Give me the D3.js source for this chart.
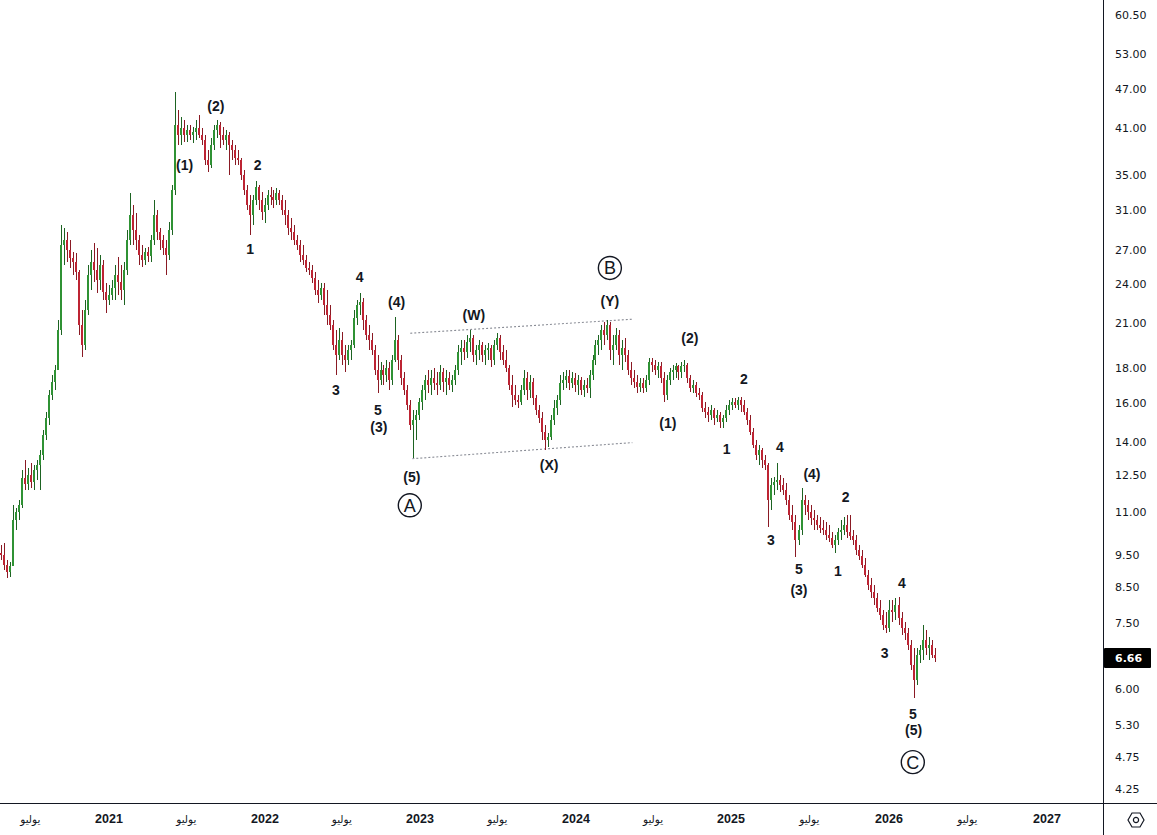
<!DOCTYPE html>
<html><head><meta charset="utf-8">
<script src="https://cdn.jsdelivr.net/npm/d3@7"></script>
<style>html,body{margin:0;padding:0;background:#fff}svg{display:block}</style>
</head><body>
<svg id="chart" width="1157" height="835"></svg>
<script>
// ---------- DATA (weekly candles) ----------
const firstWeek = "2020-04-24";
const open = [
9.55,9.48,9.16,8.95,9.13,10.69,10.99,11.26,12.36,12.10,
12.48,12.19,12.70,12.92,13.37,14.32,15.17,16.42,17.17,17.89,
20.52,27.47,27.95,27.01,26.27,25.91,25.04,20.88,19.50,21.98,
24.79,25.91,25.21,24.36,25.65,23.38,22.75,23.14,23.70,24.79,
24.20,23.54,25.21,27.95,30.46,28.93,27.95,26.55,26.09,26.82,
26.46,27.95,30.46,28.73,27.95,27.19,26.55,28.93,33.19,41.48,
40.08,41.06,40.08,40.78,40.08,40.50,41.06,40.08,39.40,36.80,
36.17,38.74,40.78,41.48,40.08,39.40,40.08,38.74,38.08,37.05,
36.80,34.95,33.19,31.52,30.46,32.07,33.54,32.07,30.77,31.52,
32.62,32.40,32.07,32.85,32.07,30.98,30.46,29.13,28.73,27.95,
27.47,26.55,26.09,25.38,25.21,24.53,23.54,23.14,23.70,22.36,
21.61,20.88,19.50,18.84,19.83,18.84,18.52,19.16,19.50,21.39,
22.36,22.59,21.24,20.18,19.83,19.16,17.89,17.29,17.89,17.59,
18.01,17.29,18.52,19.83,18.52,17.41,16.71,15.87,14.82,15.07,
15.33,16.03,16.71,17.29,17.00,17.41,17.12,17.00,17.77,17.17,
17.41,17.00,17.29,17.89,19.03,19.30,19.03,19.70,19.97,18.84,
19.16,19.50,18.84,19.16,19.30,18.52,19.50,19.97,19.03,18.52,
18.01,17.00,16.42,16.14,16.03,16.71,17.41,16.71,17.17,16.25,
15.60,15.17,14.46,14.07,14.22,15.07,15.71,16.14,17.12,17.29,
17.53,17.12,17.41,17.00,17.29,16.71,17.00,16.83,17.59,18.52,
19.50,19.83,20.52,20.18,20.88,19.16,19.50,20.18,18.84,19.30,
18.84,17.89,17.41,17.17,16.89,17.12,16.83,17.29,18.39,18.20,
17.89,18.14,17.41,16.42,17.29,17.77,17.89,18.14,17.77,18.14,
18.20,17.41,16.83,17.00,16.54,16.42,15.71,15.49,15.33,15.60,
15.17,15.33,14.97,15.17,15.60,15.87,16.03,15.87,16.14,15.87,
15.49,15.07,14.46,13.83,13.37,13.60,13.14,12.92,11.45,12.06,
12.19,12.27,12.06,11.85,11.45,10.88,10.62,9.98,10.33,11.45,
11.26,10.99,10.77,10.69,10.51,10.40,10.33,10.16,10.05,9.81,
9.98,10.26,10.33,10.51,10.26,10.12,9.98,9.65,9.45,9.16,
8.85,8.56,8.35,8.19,7.91,7.72,7.46,7.38,7.85,7.80,
7.99,7.64,7.38,7.26,6.96,6.50,6.17,6.73,6.84,7.08,
6.89,6.96,6.73];
const high = [
9.81,9.88,9.32,9.26,11.26,11.14,11.45,12.70,13.14,12.79,
13.01,12.92,13.14,13.60,14.56,15.49,16.71,17.59,18.20,21.24,
29.43,29.13,28.73,27.95,26.82,26.73,25.21,21.98,22.75,25.65,
27.01,27.66,27.19,26.55,26.09,24.11,23.95,24.36,25.65,26.36,
25.65,25.91,28.93,32.85,31.52,30.67,28.43,27.47,27.19,27.28,
28.43,32.07,30.98,29.13,28.43,27.95,29.73,33.77,46.45,43.67,
42.63,42.20,41.48,41.48,41.20,42.20,42.93,41.06,40.08,38.08,
39.67,41.48,42.20,41.91,41.20,40.78,40.50,39.40,38.74,38.08,
37.05,35.56,33.77,32.62,32.62,34.24,33.77,32.96,32.29,33.19,
33.54,33.19,33.42,33.19,32.62,32.07,30.98,30.15,29.43,28.43,
27.95,27.47,26.55,25.91,25.65,25.04,24.36,24.11,24.11,23.54,
22.36,21.24,20.52,20.66,20.38,19.50,19.50,19.83,21.98,22.75,
23.30,22.91,21.61,20.88,20.31,19.50,18.84,18.39,18.20,18.52,
18.39,18.84,21.46,20.18,18.84,17.77,17.00,16.14,15.60,15.60,
16.25,17.00,17.59,17.89,17.89,18.01,17.77,18.20,18.01,17.89,
17.77,17.59,18.20,19.50,19.83,19.83,20.18,20.52,20.18,19.50,
19.83,19.70,19.50,19.63,19.50,19.83,20.31,20.18,19.50,19.16,
18.20,17.59,17.00,16.42,17.00,17.89,17.77,17.59,17.41,16.42,
15.87,15.49,14.82,14.41,15.33,16.14,16.42,17.59,17.77,17.89,
17.89,17.77,17.71,17.59,17.47,17.29,17.41,17.89,18.84,19.83,
20.18,20.88,21.10,21.24,21.10,20.18,20.66,20.52,19.83,19.97,
19.16,18.39,17.89,17.59,17.41,17.41,17.59,18.65,18.65,18.52,
18.39,18.39,17.77,17.59,18.01,18.20,18.33,18.20,18.39,18.52,
18.33,17.59,17.29,17.17,16.83,16.60,16.03,15.76,15.87,15.71,
15.60,15.49,15.33,15.87,16.14,16.25,16.25,16.31,16.31,16.14,
15.71,15.33,14.66,14.07,13.83,13.69,13.37,13.01,12.36,12.40,
13.01,12.48,12.36,12.14,11.65,11.26,10.88,10.51,11.93,11.65,
11.45,11.26,11.07,10.88,10.80,10.69,10.62,10.51,10.26,10.16,
10.40,10.69,10.80,10.88,10.88,10.33,10.16,9.81,9.65,9.38,
9.01,8.76,8.56,8.33,8.13,7.85,7.80,8.13,8.13,8.19,
8.22,7.80,7.54,7.38,7.08,6.89,6.89,6.96,7.46,7.33,
7.16,7.08,6.89];
const low = [
9.32,9.01,8.76,8.79,10.16,10.33,10.69,11.14,11.85,11.85,
11.93,11.85,12.27,11.85,13.14,14.07,14.82,16.14,16.71,17.89,
20.18,25.65,25.91,25.38,24.79,24.36,20.18,18.71,19.16,21.61,
23.54,24.20,23.30,23.54,22.75,21.76,22.36,22.75,22.75,23.14,
22.75,22.36,24.79,27.47,27.47,27.01,25.65,25.47,25.65,25.91,
25.91,27.47,27.95,27.01,26.55,24.79,26.09,28.43,32.62,38.74,
38.74,39.14,39.14,39.40,39.01,39.40,39.67,38.74,36.17,35.32,
35.80,38.08,39.67,38.34,38.74,38.08,34.95,36.80,36.17,36.17,
34.36,32.62,30.98,28.43,29.43,31.52,30.98,29.94,29.64,30.98,
31.52,31.20,31.52,31.52,30.46,29.43,28.43,27.95,27.47,27.01,
25.91,25.65,25.04,24.79,24.11,23.14,22.52,22.75,21.61,20.88,
20.52,19.16,17.59,18.52,18.20,17.77,18.20,18.52,19.30,20.88,
21.61,20.52,19.83,19.16,18.84,17.59,16.54,17.00,17.00,17.17,
16.71,17.00,18.39,17.89,17.00,16.42,15.60,14.56,13.23,14.07,
15.07,15.60,16.14,16.54,16.42,16.71,16.42,16.71,16.60,16.42,
16.71,16.60,17.00,17.59,18.20,18.52,18.65,19.03,18.39,18.20,
18.52,18.39,18.20,18.52,18.08,18.20,19.16,18.52,18.20,17.77,
16.71,15.76,15.87,15.71,15.87,16.42,16.14,16.25,15.87,15.33,
14.92,14.07,13.60,13.74,14.07,14.82,15.33,15.87,16.71,16.83,
16.71,16.83,16.60,16.42,16.42,16.31,16.54,16.25,17.29,18.20,
18.84,19.16,19.50,19.83,18.52,18.20,19.16,18.20,17.89,18.39,
17.59,17.00,16.83,16.54,16.60,16.54,16.60,17.00,17.77,17.59,
17.41,17.12,16.03,16.14,17.00,17.29,17.41,17.29,17.41,17.77,
17.12,16.60,16.54,16.31,16.14,15.49,15.17,14.97,15.07,14.82,
14.97,14.66,14.66,14.97,15.33,15.60,15.71,15.60,15.49,15.33,
14.82,14.32,13.69,13.14,12.92,12.79,12.70,10.44,11.07,11.65,
11.85,11.77,11.65,11.26,10.69,10.33,9.41,9.81,10.16,10.88,
10.69,10.51,10.33,10.33,10.23,10.16,9.98,9.91,9.71,9.55,
9.81,9.98,10.16,10.05,9.98,9.81,9.48,9.32,9.07,8.79,
8.41,8.19,7.99,7.80,7.59,7.33,7.26,7.28,7.54,7.59,
7.46,7.21,7.08,6.84,6.39,5.81,6.07,6.55,6.61,6.73,
6.61,6.66,6.57];
const close = [
9.48,9.16,8.95,9.13,10.69,10.99,11.26,12.36,12.10,12.48,
12.19,12.70,12.92,13.37,14.32,15.17,16.42,17.17,17.89,20.52,
27.47,27.95,27.01,26.27,25.91,25.04,20.88,19.50,21.98,24.79,
25.91,25.21,24.36,25.65,23.38,22.75,23.14,23.70,24.79,24.20,
23.54,25.21,27.95,30.46,28.93,27.95,26.55,26.09,26.82,26.46,
27.95,30.46,28.73,27.95,27.19,26.55,28.93,33.19,41.48,40.08,
41.06,40.08,40.78,40.08,40.50,41.06,40.08,39.40,36.80,36.17,
38.74,40.78,41.48,40.08,39.40,40.08,38.74,38.08,37.05,36.80,
34.95,33.19,31.52,30.46,32.07,33.54,32.07,30.77,31.52,32.62,
32.40,32.07,32.85,32.07,30.98,30.46,29.13,28.73,27.95,27.47,
26.55,26.09,25.38,25.21,24.53,23.54,23.14,23.70,22.36,21.61,
20.88,19.50,18.84,19.83,18.84,18.52,19.16,19.50,21.39,22.36,
22.59,21.24,20.18,19.83,19.16,17.89,17.29,17.89,17.59,18.01,
17.29,18.52,19.83,18.52,17.41,16.71,15.87,14.82,15.07,15.33,
16.03,16.71,17.29,17.00,17.41,17.12,17.00,17.77,17.17,17.41,
17.00,17.29,17.89,19.03,19.30,19.03,19.70,19.97,18.84,19.16,
19.50,18.84,19.16,19.30,18.52,19.50,19.97,19.03,18.52,18.01,
17.00,16.42,16.14,16.03,16.71,17.41,16.71,17.17,16.25,15.60,
15.17,14.46,14.07,14.22,15.07,15.71,16.14,17.12,17.29,17.53,
17.12,17.41,17.00,17.29,16.71,17.00,16.83,17.59,18.52,19.50,
19.83,20.52,20.18,20.88,19.16,19.50,20.18,18.84,19.30,18.84,
17.89,17.41,17.17,16.89,17.12,16.83,17.29,18.39,18.20,17.89,
18.14,17.41,16.42,17.29,17.77,17.89,18.14,17.77,18.14,18.20,
17.41,16.83,17.00,16.54,16.42,15.71,15.49,15.33,15.60,15.17,
15.33,14.97,15.17,15.60,15.87,16.03,15.87,16.14,15.87,15.49,
15.07,14.46,13.83,13.37,13.60,13.14,12.92,11.45,12.06,12.19,
12.27,12.06,11.85,11.45,10.88,10.62,9.98,10.33,11.45,11.26,
10.99,10.77,10.69,10.51,10.40,10.33,10.16,10.05,9.81,9.98,
10.26,10.33,10.51,10.26,10.12,9.98,9.65,9.45,9.16,8.85,
8.56,8.35,8.19,7.91,7.72,7.46,7.38,7.85,7.80,7.99,
7.64,7.38,7.26,6.96,6.50,6.17,6.73,6.84,7.08,6.89,
6.96,6.73,6.66];

const priceTicks = [60.5,53,47,41,35,31,27,24,21,18,16,14,12.5,11,9.5,8.5,7.5,6,5.3,4.75,4.25];
const lastPrice = 6.66;
const yearLabels = ["2021","2022","2023","2024","2025","2026","2027"];
const julyLabel = "يوليو";
const julyYears = [2020,2021,2022,2023,2024,2025,2026];

const waveLabels = [
  {t:"(1)",d:"2021-06-27",p:36.2},{t:"(2)",d:"2021-09-08",p:44.3},
  {t:"2",d:"2021-12-15",p:36.2},{t:"1",d:"2021-11-27",p:27.1},
  {t:"4",d:"2022-08-12",p:24.6},{t:"3",d:"2022-06-17",p:16.7},
  {t:"(4)",d:"2022-11-07",p:22.6},{t:"5",d:"2022-09-24",p:15.6},
  {t:"(3)",d:"2022-09-26",p:14.7},{t:"(5)",d:"2022-12-13",p:12.4},
  {t:"(W)",d:"2023-05-07",p:21.6},{t:"(X)",d:"2023-10-30",p:12.9},
  {t:"(Y)",d:"2024-03-21",p:22.7},{t:"(2)",d:"2024-09-26",p:19.96},
  {t:"(1)",d:"2024-08-05",p:14.9},{t:"2",d:"2025-01-31",p:17.35},
  {t:"1",d:"2024-12-22",p:13.65},{t:"4",d:"2025-04-24",p:13.74},
  {t:"3",d:"2025-04-03",p:9.98},{t:"(4)",d:"2025-07-07",p:12.52},
  {t:"5",d:"2025-06-07",p:9.04},{t:"(3)",d:"2025-06-07",p:8.41},
  {t:"2",d:"2025-09-23",p:11.57},{t:"1",d:"2025-09-05",p:8.98},
  {t:"4",d:"2026-01-31",p:8.61},{t:"3",d:"2025-12-22",p:6.77},
  {t:"5",d:"2026-02-25",p:5.50},{t:"(5)",d:"2026-02-27",p:5.20}
];
const circleLabels = [
  {t:"A",d:"2022-12-08",p:11.25},{t:"B",d:"2024-03-21",p:25.4},{t:"C",d:"2026-02-25",p:4.66}
];
const channelTop = [{d:"2022-12-09",p:20.3},{d:"2024-05-13",p:21.3}];
const channelBottom = [{d:"2022-12-14",p:13.2},{d:"2024-05-13",p:13.95}];

// ---------- LAYOUT ----------
const W = 1157, H = 835;
const plotRight = 1103, plotBottom = 803;
const parse = d3.utcParse("%Y-%m-%d");
const svg = d3.select("#chart");

const x = d3.scaleUtc()
  .domain(yearLabels.map(y => new Date(Date.UTC(+y,0,1))))
  .range([109,265,420,576,731,889,1047]);
const y = d3.scaleLog().domain([4.25,60.5]).range([789,15]);

const start = parse(firstWeek);
const n = Math.min(open.length, high.length, low.length, close.length);
const candles = d3.range(n).map(i => ({
  date: d3.utcDay.offset(start, 7*i), o: open[i], h: high[i], l: low[i], c: close[i]
}));

svg.append("rect").attr("width",W).attr("height",H).attr("fill","#fff");

svg.append("defs").append("clipPath").attr("id","plot")
  .append("rect").attr("x",0).attr("y",0).attr("width",plotRight).attr("height",plotBottom);

const g = svg.append("g").attr("clip-path","url(#plot)");

// channel lines
[channelTop, channelBottom].forEach(ch => {
  g.append("line")
    .attr("x1", x(parse(ch[0].d))).attr("y1", y(ch[0].p))
    .attr("x2", x(parse(ch[1].d))).attr("y2", y(ch[1].p))
    .attr("stroke","#8a8d96").attr("stroke-width",1.1).attr("stroke-dasharray","2,2");
});

// candles
const UP_BODY="#2f9234", UP_WICK="#1d6322", DN_BODY="#bd2433", DN_WICK="#8a1a24";
const cg = g.append("g").attr("shape-rendering","crispEdges");
const cs = cg.selectAll("g.c").data(candles).join("g").attr("class","c");
cs.append("rect")
  .attr("x", d => Math.round(x(d.date)))
  .attr("width", 1)
  .attr("y", d => y(d.h))
  .attr("height", d => Math.max(1, y(d.l) - y(d.h)))
  .attr("fill", d => d.c >= d.o ? UP_WICK : DN_WICK);
cs.append("rect")
  .attr("x", d => Math.round(x(d.date)) - 1)
  .attr("width", 2)
  .attr("y", d => Math.min(y(d.o), y(d.c)))
  .attr("height", d => Math.max(1, Math.abs(y(d.o) - y(d.c))))
  .attr("fill", d => d.c >= d.o ? UP_BODY : DN_BODY);

// wave labels
g.selectAll("text.w").data(waveLabels).join("text").attr("class","w")
  .attr("x", d => x(parse(d.d))).attr("y", d => y(d.p))
  .attr("text-anchor","middle").attr("dominant-baseline","central")
  .attr("font-family","'Liberation Sans', Arial, sans-serif")
  .attr("font-weight","bold").attr("font-size",14).attr("fill","#131722")
  .text(d => d.t);

const cl = g.selectAll("g.cl").data(circleLabels).join("g").attr("class","cl")
  .attr("transform", d => `translate(${x(parse(d.d))},${y(d.p)})`);
cl.append("circle").attr("r",11.5).attr("fill","#fff").attr("stroke","#131722").attr("stroke-width",1.4);
cl.append("text").attr("text-anchor","middle").attr("dominant-baseline","central").attr("dy",0.5)
  .attr("font-family","'Liberation Sans', Arial, sans-serif").attr("font-size",18).attr("fill","#131722")
  .text(d => d.t);

// ---------- AXES ----------
const yAxis = d3.axisRight(y).tickValues(priceTicks).tickFormat(d3.format(".2f")).tickSize(0).tickPadding(12);
const ya = svg.append("g").attr("transform",`translate(${plotRight},0)`).call(yAxis);
ya.select(".domain").remove();
ya.selectAll("text").attr("font-family","'DejaVu Sans', Verdana, sans-serif").attr("font-size",11).attr("fill","#131722");

// last price tag
const ly = y(lastPrice);
svg.append("rect").attr("x",plotRight+1).attr("y",ly-10).attr("width",47).attr("height",20).attr("rx",1).attr("fill","#000");
svg.append("text").attr("x",plotRight+12).attr("y",ly).attr("dominant-baseline","central")
  .attr("font-family","'DejaVu Sans', Verdana, sans-serif").attr("font-size",11).attr("font-weight","bold")
  .attr("fill","#fff").text(d3.format(".2f")(lastPrice));

const xTicks = [];
julyYears.forEach((yr,i) => {
  xTicks.push({date:new Date(Date.UTC(yr,6,1)), label:julyLabel, year:false});
  xTicks.push({date:new Date(Date.UTC(yr+1,0,1)), label:yearLabels[i], year:true});
});
const xa = svg.append("g").attr("transform",`translate(0,${plotBottom})`);
xa.selectAll("text").data(xTicks.filter(d => x(d.date) < plotRight - 10)).join("text")
  .attr("x", d => x(d.date)).attr("y", 16).attr("text-anchor","middle").attr("dominant-baseline","central")
  .attr("font-family", d => d.year ? "'Liberation Sans', Arial, sans-serif" : "'DejaVu Sans', sans-serif")
  .attr("font-weight", d => d.year ? "bold" : "normal")
  .attr("font-size", d => d.year ? 12.5 : 10.5)
  .attr("fill","#131722")
  .text(d => d.label);

// frame lines
svg.append("line").attr("x1",0).attr("x2",W).attr("y1",plotBottom+0.5).attr("y2",plotBottom+0.5)
  .attr("stroke","#131722").attr("stroke-width",1);
svg.append("line").attr("x1",plotRight+0.5).attr("x2",plotRight+0.5).attr("y1",0).attr("y2",H)
  .attr("stroke","#131722").attr("stroke-width",1);

// settings icon
const ic = svg.append("g").attr("transform",`translate(1136,820)`);
ic.append("path").attr("d","M-8,0L-4,-7L4,-7L8,0L4,7L-4,7Z").attr("fill","none").attr("stroke","#131722").attr("stroke-width",1.2);
ic.append("circle").attr("r",2.6).attr("fill","none").attr("stroke","#131722").attr("stroke-width",1.2);
</script>
</body></html>
